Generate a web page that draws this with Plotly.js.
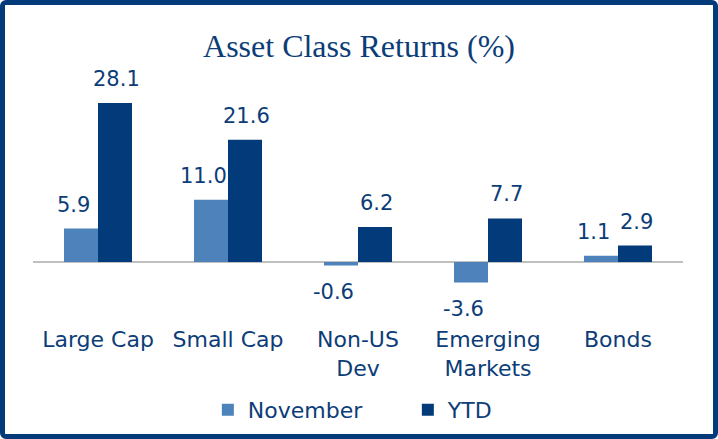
<!DOCTYPE html>
<html>
<head>
<meta charset="utf-8">
<script src="https://cdn.plot.ly/plotly-3.0.1.min.js"></script>
<style>
html,body{margin:0;padding:0;background:#fff;}
#wrap{position:absolute;left:0;top:0;width:718px;height:439px;box-sizing:border-box;border:5px solid #033b7a;border-radius:6px;background:#fff;overflow:hidden;}
#chart{width:708px;height:429px;}
</style>
</head>
<body>
<div id="wrap"><div id="chart"></div></div>
<script>
const categories = ["Large Cap", "Small Cap", "Non-US<br>Dev", "Emerging<br>Markets", "Bonds"];
const november = [5.9, 11.0, -0.6, -3.6, 1.1];
const ytd = [28.1, 21.6, 6.2, 7.7, 2.9];
const seriesNames = ["November", "YTD"];

const navy = "#033b7a";
const light = "#4e82ba";
const textColor = "#0c3d78";
const sans = "DejaVu Sans, sans-serif";

const fmt = v => v.toFixed(1);

const traces = [
  {type: "bar", name: seriesNames[0], x: categories, y: november, marker: {color: light}},
  {type: "bar", name: seriesNames[1], x: categories, y: ytd, marker: {color: navy}}
];

// value labels, positioned through the axes from the data
const annotations = [];
[[november, -25], [ytd, 18]].forEach(([vals, dx]) => {
  vals.forEach((v, i) => {
    annotations.push({
      x: categories[i], y: v, xref: "x", yref: "y", text: fmt(v), showarrow: false,
      xshift: dx, yanchor: v >= 0 ? "bottom" : "top", yshift: v >= 0 ? 10 : -13,
      font: {family: sans, size: 21, color: textColor}
    });
  });
});

const layout = {
  width: 708, height: 429,
  margin: {l: 28, r: 30, t: 75, b: 112},
  paper_bgcolor: "#fff", plot_bgcolor: "#fff",
  title: {text: "Asset Class Returns (%)", x: 0.5, xanchor: "center", y: 0.905, yanchor: "middle",
          font: {family: "Liberation Serif, serif", size: 32, color: textColor}},
  barmode: "group", bargap: 0.477, bargroupgap: 0,
  showlegend: true,
  legend: {orientation: "h", x: 0.269, xanchor: "left", yref: "container", y: 0.056, yanchor: "middle",
           font: {family: sans, size: 22, color: textColor}, entrywidth: 155, entrywidthmode: "pixels"},
  annotations: annotations,
  xaxis: {type: "category", showline: false, showgrid: false, ticks: "", zeroline: false,
          tickfont: {family: sans, size: 22, color: textColor}, ticklabelstandoff: 2, fixedrange: true},
  yaxis: {range: [-10.6, 32.16], showticklabels: false, showgrid: false, showline: false, ticks: "",
          zeroline: true, zerolinecolor: "#c0c0c0", zerolinewidth: 2, fixedrange: true},
  hovermode: false
};

Plotly.newPlot("chart", traces, layout, {displayModeBar: false, staticPlot: true});
</script>
</body>
</html>
